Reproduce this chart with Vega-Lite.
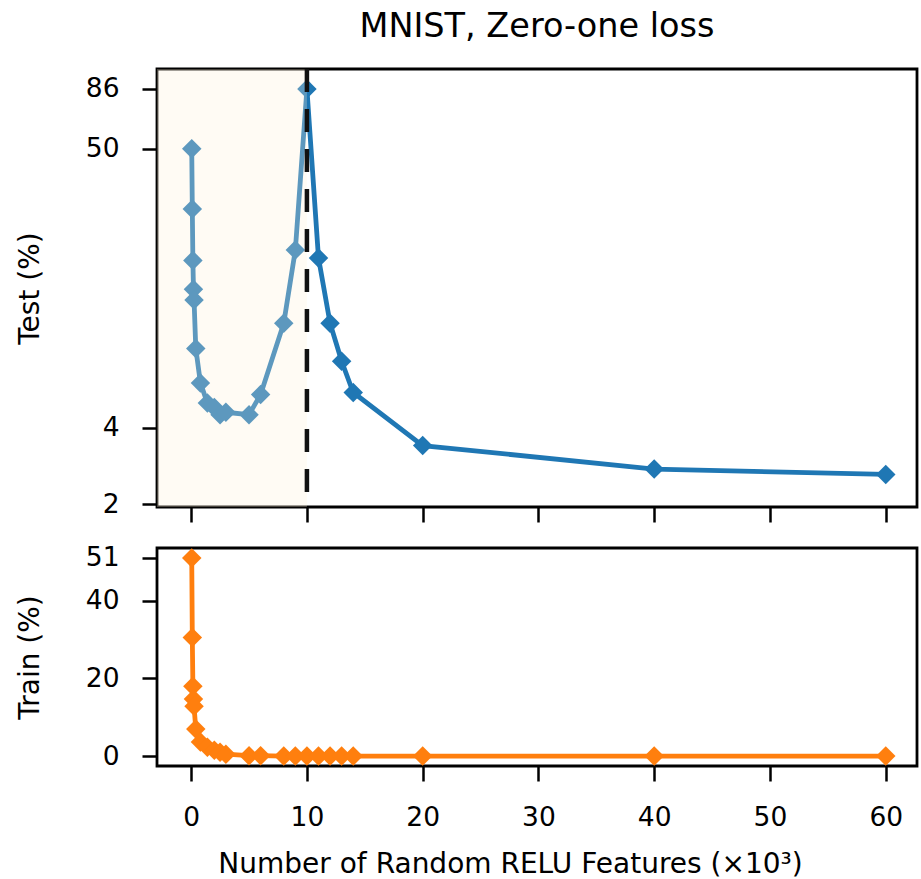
{
  "$schema": "https://vega.github.io/schema/vega-lite/v6.json",
  "padding": {"left": 14, "top": 8, "right": 4, "bottom": 3},
  "background": "white",
  "config": {
    "font": "DejaVu Sans",
    "view": {"stroke": "black", "strokeWidth": 2.8},
    "axis": {"grid": false, "domain": false, "tickColor": "black", "tickWidth": 2.5, "tickSize": 15, "labelFontSize": 26.5, "labelColor": "black", "labelFont": "DejaVu Sans", "titleFont": "DejaVu Sans", "titleFontSize": 28, "titleFontWeight": "normal", "titleColor": "black", "labelPadding": 23},
    "title": {"font": "DejaVu Sans", "fontSize": 33.5, "fontWeight": "normal", "color": "black"}
  },
  "datasets": {
    "mnist": [
      {"k": 0.05, "test": 50, "train": 51},
      {"k": 0.1, "test": 29, "train": 30.5},
      {"k": 0.15, "test": 18.2, "train": 18},
      {"k": 0.2, "test": 14, "train": 14.7},
      {"k": 0.25, "test": 12.7, "train": 12.8},
      {"k": 0.4, "test": 8.2, "train": 7.0},
      {"k": 0.8, "test": 6.0, "train": 3.6},
      {"k": 1.4, "test": 5.0, "train": 2.3},
      {"k": 2.0, "test": 4.8, "train": 1.5},
      {"k": 2.5, "test": 4.5, "train": 1.0},
      {"k": 3.0, "test": 4.6, "train": 0.5},
      {"k": 5, "test": 4.5, "train": 0.1},
      {"k": 6, "test": 5.4, "train": 0.1},
      {"k": 8, "test": 10.3, "train": 0},
      {"k": 9, "test": 20, "train": 0},
      {"k": 10, "test": 86, "train": 0},
      {"k": 11, "test": 18.6, "train": 0},
      {"k": 12, "test": 10.3, "train": 0},
      {"k": 13, "test": 7.3, "train": 0},
      {"k": 14, "test": 5.5, "train": 0},
      {"k": 20, "test": 3.4, "train": 0},
      {"k": 40, "test": 2.75, "train": 0},
      {"k": 60, "test": 2.62, "train": 0}
    ]
  },
  "spacing": 18,
  "vconcat": [
    {
      "width": 760,
      "height": 438,
      "title": {"text": "MNIST, Zero-one loss", "offset": 22},
      "data": {"name": "mnist"},
      "layer": [
        {
          "mark": {"type": "line", "color": "#1f77b4", "strokeWidth": 4.8},
          "encoding": {
            "x": {"field": "k", "type": "quantitative", "scale": {"domain": [-2.95, 62.7], "nice": false, "zero": false}, "axis": {"values": [0, 10, 20, 30, 40, 50, 60], "labels": false, "title": null}},
            "y": {"field": "test", "type": "quantitative", "scale": {"type": "log", "domain": [1.95, 103], "nice": false}, "axis": {"values": [2, 4, 50, 86], "format": "~g", "title": "Test (%)", "titlePadding": 41}}
          }
        },
        {
          "mark": {"type": "point", "shape": "diamond", "filled": true, "size": 380, "color": "#1f77b4", "opacity": 1},
          "encoding": {
            "x": {"field": "k", "type": "quantitative"},
            "y": {"field": "test", "type": "quantitative"}
          }
        },
        {
          "data": {"values": [{"a": -2.95, "b": 10}]},
          "mark": {"type": "rect", "fill": "#fff0d7", "fillOpacity": 0.28},
          "encoding": {
            "x": {"field": "a", "type": "quantitative"},
            "x2": {"field": "b"}
          }
        },
        {
          "data": {"values": [{"v": 10}]},
          "mark": {"type": "rule", "color": "#111111", "strokeWidth": 4.5, "strokeDash": [23, 17]},
          "encoding": {
            "x": {"field": "v", "type": "quantitative"}
          }
        }
      ]
    },
    {
      "width": 760,
      "height": 218,
      "data": {"name": "mnist"},
      "layer": [
        {
          "mark": {"type": "line", "color": "#ff7f0e", "strokeWidth": 4.8},
          "encoding": {
            "x": {"field": "k", "type": "quantitative", "scale": {"domain": [-2.95, 62.7], "nice": false, "zero": false}, "axis": {"values": [0, 10, 20, 30, 40, 50, 60], "title": "Number of Random RELU Features (×10³)", "titleX": 353, "titlePadding": 20}},
            "y": {"field": "train", "type": "quantitative", "scale": {"domain": [-2.55, 53.55], "nice": false, "zero": false}, "axis": {"values": [0, 20, 40, 51], "title": "Train (%)", "titlePadding": 41}}
          }
        },
        {
          "mark": {"type": "point", "shape": "diamond", "filled": true, "size": 380, "color": "#ff7f0e", "opacity": 1},
          "encoding": {
            "x": {"field": "k", "type": "quantitative"},
            "y": {"field": "train", "type": "quantitative"}
          }
        }
      ]
    }
  ]
}
